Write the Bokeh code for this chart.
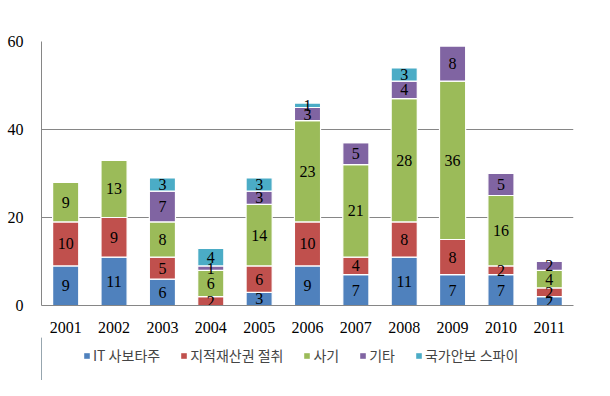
from bokeh.plotting import figure
from bokeh.layouts import column
from bokeh.models import (FactorRange, Range1d, Legend, LegendItem, ColumnDataSource,
                          FixedTicker)
from bokeh.core.properties import value
from bokeh.embed import file_html
from bokeh.resources import INLINE

years = ['2001', '2002', '2003', '2004', '2005', '2006', '2007', '2008', '2009', '2010', '2011']
it_sabotage = [9, 11, 6, 0, 3, 9, 7, 11, 7, 7, 2]
ip_theft = [10, 9, 5, 2, 6, 10, 4, 8, 8, 2, 2]
fraud = [9, 13, 8, 6, 14, 23, 21, 28, 36, 16, 4]
other = [0, 0, 7, 1, 3, 3, 5, 4, 8, 5, 2]
espionage = [0, 0, 3, 4, 3, 1, 0, 3, 0, 0, 0]

series_names = ['IT 사보타주', '지적재산권 절취', '사기', '기타', '국가안보 스파이']
colors = ['#4F81BD', '#C0504D', '#9BBB59', '#8064A2', '#4BACC6']
y_ticks = [0, 20, 40, 60]

keys = ['s0', 's1', 's2', 's3', 's4']
series = [it_sabotage, ip_theft, fraud, other, espionage]
data = {'year': years}
for k, s in zip(keys, series):
    data[k] = s
source = ColumnDataSource(data)

p = figure(x_range=FactorRange(*years), y_range=Range1d(0, 60),
           output_backend="svg", toolbar_location=None,
           frame_width=532, frame_height=264,
           min_border_left=41, min_border_right=21, min_border_top=41, min_border_bottom=32)

renderers = p.vbar_stack(keys, x='year', width=0.54, color=colors, source=source,
                         line_color='white', line_width=1.2)

# segment labels
lx, ly, lt = [], [], []
for i, yr in enumerate(years):
    base = 0
    for s in series:
        v = s[i]
        if v > 0:
            lx.append(yr)
            ly.append(base + v / 2)
            lt.append(str(v))
        base += v
lsrc = ColumnDataSource(dict(x=lx, y=ly, t=lt))
p.text(x='x', y='y', text='t', source=lsrc, text_align='center', text_baseline='middle',
       text_font=value("Liberation Serif"), text_font_size='16px', text_color='black')

p.outline_line_color = None
p.xgrid.grid_line_color = None
p.ygrid.grid_line_color = '#868686'
p.ygrid.grid_line_width = 1
p.yaxis.ticker = FixedTicker(ticks=y_ticks)
p.yaxis.minor_tick_line_color = None
p.yaxis.major_tick_line_color = None
p.xaxis.major_tick_line_color = None
p.axis.axis_line_color = '#868686'
p.axis.major_label_text_font = "Liberation Serif"
p.axis.major_label_text_font_size = '16px'
p.axis.major_label_text_color = 'black'
p.yaxis.major_label_standoff = 12
p.xaxis.major_label_standoff = 10

# legend figure
lf = figure(width=594, height=43, x_range=Range1d(0, 1), y_range=Range1d(0, 1),
            x_axis_location=None, y_axis_location=None,
            output_backend="svg", toolbar_location=None,
            min_border=0, min_border_left=0, min_border_right=0, min_border_top=0, min_border_bottom=0)
lf.grid.visible = False
lf.outline_line_color = None
dummy = []
for c in colors:
    dummy.append(lf.vbar(x=[-5], top=[1], bottom=[0], width=0.5, fill_color=c,
                         line_color=c, line_width=0))
legend = Legend(items=[LegendItem(label=n, renderers=[r]) for n, r in zip(series_names, dummy)],
                orientation='horizontal', location=(42, 15),
                label_text_font='Noto Sans CJK KR', label_text_font_size='14px',
                glyph_width=7, glyph_height=7, label_standoff=3, spacing=20,
                border_line_color=None, background_fill_alpha=0, padding=0, margin=0)
lf.add_layout(legend, 'center')

layout = column(p, lf, spacing=0)
open("out.html", "w").write(file_html(layout, INLINE))
